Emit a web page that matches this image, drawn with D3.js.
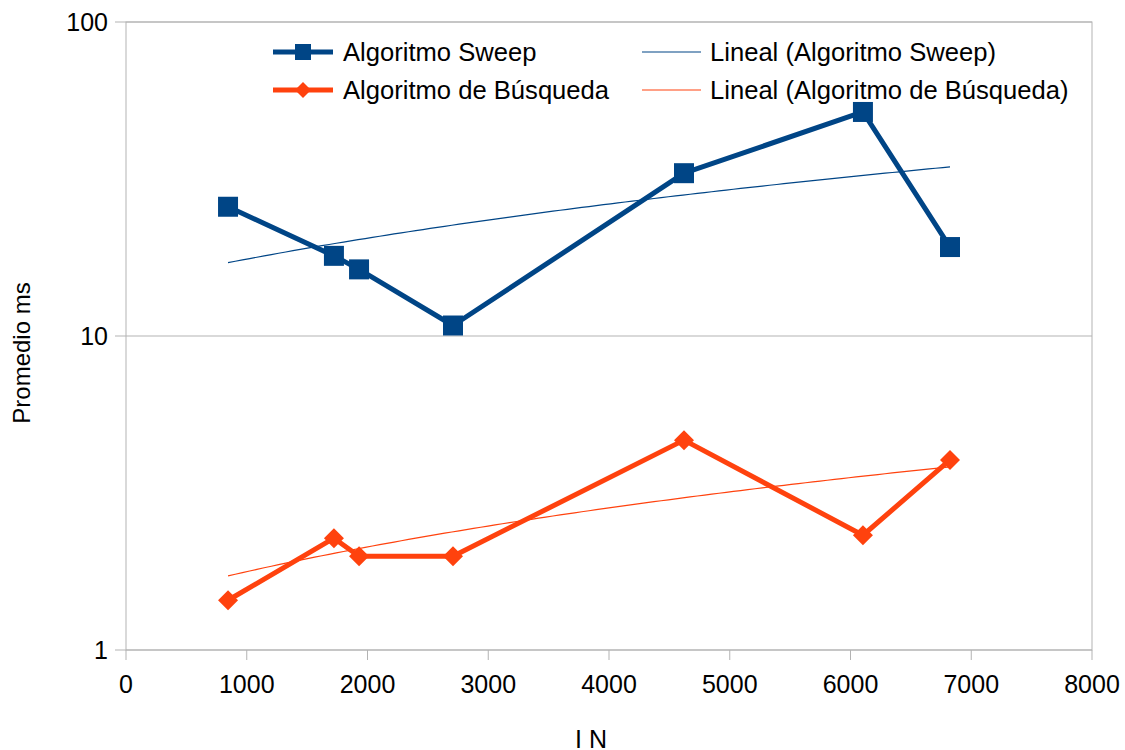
<!DOCTYPE html>
<html><head><meta charset="utf-8">
<script src="https://cdn.jsdelivr.net/npm/d3@7"></script>
<style>body{margin:0;background:#fff}text{font-family:"Liberation Sans",Arial,sans-serif;fill:#000}</style>
</head><body><svg id="c" width="1125" height="750"></svg>
<script>
const xValues = [845, 1722, 1930, 2708, 4621, 6103, 6824];
const sweepValues = [25.8, 18.0, 16.3, 10.8, 33.0, 51.7, 19.2];
const busquedaValues = [1.44, 2.27, 1.99, 1.99, 4.66, 2.32, 4.03];
const xTicks = [0,1000,2000,3000,4000,5000,6000,7000,8000];
const yTicks = [1,10,100];
const seriesNames = ["Algoritmo Sweep","Algoritmo de Búsqueda"];
const trendNames = ["Lineal (Algoritmo Sweep)","Lineal (Algoritmo de Búsqueda)"];
const colors = ["#004586","#ff420e"];
const FS = 25;

const svg = d3.select("#c");
const L=126,R=1092,T=22,B=650;
const x = d3.scaleLinear().domain([0,8000]).range([L,R]);
const y = d3.scaleLog().domain([1,100]).range([B,T]);

svg.append("rect").attr("x",L).attr("y",T).attr("width",R-L).attr("height",B-T).attr("fill","none").attr("stroke","#b3b3b3").attr("stroke-width",1);
yTicks.forEach(v=>{
  svg.append("line").attr("x1",L-11).attr("x2",R).attr("y1",y(v)).attr("y2",y(v)).attr("stroke","#b3b3b3").attr("stroke-width",1);
  svg.append("text").attr("x",108).attr("y",y(v)+9).attr("text-anchor","end").attr("font-size",FS).text(v);
});
xTicks.forEach(v=>{
  svg.append("line").attr("x1",x(v)).attr("x2",x(v)).attr("y1",B).attr("y2",B+10).attr("stroke","#b3b3b3");
  svg.append("text").attr("x",x(v)).attr("y",B+43).attr("text-anchor","middle").attr("font-size",FS).text(v);
});
svg.append("text").attr("x",591).attr("y",748).attr("text-anchor","middle").attr("font-size",FS).text("I N");
svg.append("text").attr("transform","translate(30,353) rotate(-90)").attr("text-anchor","middle").attr("font-size",24).text("Promedio ms");

function trend(vals){
  const mx=d3.mean(xValues), my=d3.mean(vals);
  let sxy=0,sxx=0; xValues.forEach((v,i)=>{sxy+=(v-mx)*(vals[i]-my);sxx+=(v-mx)*(v-mx);});
  const b=sxy/sxx, a=my-b*mx;
  const x0=d3.min(xValues), x1=d3.max(xValues);
  return d3.range(0,101).map(k=>{const xv=x0+(x1-x0)*k/100;return [xv,a+b*xv];});
}
const line=d3.line().x(d=>x(d[0])).y(d=>y(d[1]));
[sweepValues,busquedaValues].forEach((vals,i)=>{
  svg.append("path").attr("d",line(trend(vals))).attr("fill","none").attr("stroke",colors[i]).attr("stroke-width",1.2);
});
[sweepValues,busquedaValues].forEach((vals,i)=>{
  const pts=xValues.map((v,j)=>[v,vals[j]]);
  svg.append("path").attr("d",line(pts)).attr("fill","none").attr("stroke",colors[i]).attr("stroke-width",5).attr("stroke-linejoin","round");
});
const sq=d3.symbol().type(d3.symbolSquare).size(400);
const dm=d3.symbol().type(d3.symbolSquare).size(200);
xValues.forEach((v,j)=>{
  svg.append("path").attr("d",sq()).attr("transform",`translate(${x(v)},${y(sweepValues[j])})`).attr("fill",colors[0]);
  svg.append("path").attr("d",dm()).attr("transform",`translate(${x(v)},${y(busquedaValues[j])}) rotate(45)`).attr("fill",colors[1]);
});

const rows=[52,90];
rows.forEach((ry,i)=>{
  svg.append("line").attr("x1",273).attr("x2",333).attr("y1",ry).attr("y2",ry).attr("stroke",colors[i]).attr("stroke-width",5);
  if(i===0) svg.append("path").attr("d",d3.symbol().type(d3.symbolSquare).size(256)()).attr("transform",`translate(303,${ry})`).attr("fill",colors[0]);
  else svg.append("path").attr("d",d3.symbol().type(d3.symbolSquare).size(128)()).attr("transform",`translate(303,${ry}) rotate(45)`).attr("fill",colors[1]);
  svg.append("text").attr("x",343).attr("y",ry+9).attr("font-size",25.6).text(seriesNames[i]);
  svg.append("line").attr("x1",642).attr("x2",701).attr("y1",ry).attr("y2",ry).attr("stroke",colors[i]).attr("stroke-width",1.2);
  svg.append("text").attr("x",710).attr("y",ry+9).attr("font-size",25.6).text(trendNames[i]);
});
</script></body></html>
